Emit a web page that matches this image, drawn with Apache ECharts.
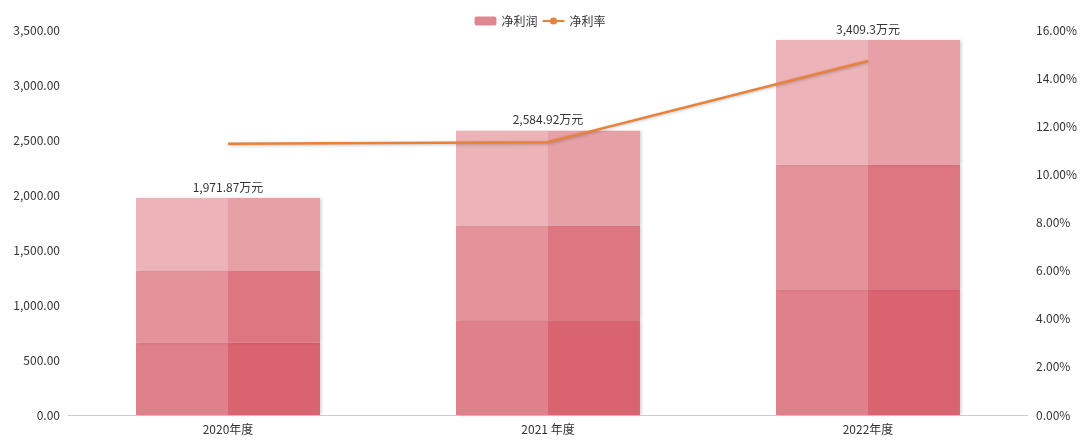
<!DOCTYPE html>
<html>
<head>
<meta charset="utf-8">
<script src="https://cdn.jsdelivr.net/npm/echarts@6/dist/echarts.min.js"></script>
<style>html,body{margin:0;padding:0;background:#fff}#main{width:1080px;height:442px}</style>
</head>
<body>
<div id="main"></div>
<script>
// 数据
var years = ['2020年度', '2021 年度', '2022年度'];
var profit = [1971.87, 2584.92, 3409.3];
var profitLabels = ['1,971.87万元', '2,584.92万元', '3,409.3万元'];
var seg1 = [657.29, 861.64, 1136.43];
var seg2 = [657.29, 861.64, 1136.43];
var seg3 = [657.29, 861.64, 1136.44];
var rate = [11.27, 11.34, 14.71];

(function () {
    var myChart = echarts.init(document.getElementById('main'));
    var font = 'Noto Sans CJK SC';
    var shadow = { shadowColor: 'rgba(0,0,0,0.18)', shadowBlur: 3, shadowOffsetX: 2 };

    function seg(name, stack, data, color, top) {
        var s = {
            name: name, type: 'bar', stack: stack, barWidth: 92, barGap: '0%',
            data: data, itemStyle: Object.assign({ color: color }, shadow)
        };
        if (top) {
            s.label = {
                show: true, position: 'top', offset: [-46, 0], color: '#333', fontSize: 12, fontFamily: font,
                formatter: function (p) { return profitLabels[p.dataIndex]; }
            };
        }
        return s;
    }

    var option = {
        animation: false,
        textStyle: { fontFamily: font },
        legend: {
            top: 10, left: 'center', itemGap: 4, itemWidth: 22, itemHeight: 9,
            textStyle: { color: '#333', fontSize: 12 },
            data: [{ name: '净利润', itemStyle: { color: '#e08890', shadowBlur: 0 } }, '净利率']
        },
        grid: { left: 68, right: 52, top: 30, bottom: 27 },
        xAxis: {
            type: 'category', data: years,
            axisTick: { show: false },
            axisLine: { lineStyle: { color: '#ccc' } },
            axisLabel: { color: '#333', fontSize: 12 }
        },
        yAxis: [{
            type: 'value', min: 0, max: 3500, interval: 500,
            axisLabel: { color: '#333', fontSize: 12, formatter: function (v) {
                return v.toLocaleString('en-US', { minimumFractionDigits: 2, maximumFractionDigits: 2 }); } },
            splitLine: { show: false }, axisLine: { show: false }, axisTick: { show: false }
        }, {
            type: 'value', min: 0, max: 16, interval: 2,
            axisLabel: { color: '#333', fontSize: 12, formatter: function (v) { return v.toFixed(2) + '%'; } },
            splitLine: { show: false }, axisLine: { show: false }, axisTick: { show: false }
        }],
        series: [
            seg('净利润', 'L', seg1, '#e0808a'),
            seg('净利润', 'L', seg2, '#e5939a'),
            seg('净利润', 'L', seg3, '#ecb3b8'),
            seg('净利润', 'R', seg1, '#d9646f'),
            seg('净利润', 'R', seg2, '#dd7680'),
            seg('净利润', 'R', seg3, '#e6a0a6', true),
            {
                name: '净利率', type: 'line', yAxisIndex: 1, data: rate,
                symbol: 'none', color: '#e8823a',
                lineStyle: { width: 2.5, color: '#e8823a', shadowColor: 'rgba(0,0,0,0.25)', shadowBlur: 3, shadowOffsetY: 1 },
                label: { show: true, position: 'right', offset: [-8, 0], color: '#444', fontSize: 12,
                    formatter: function (p) { return p.value.toFixed(2) + '%'; } }
            }
        ]
    };
    myChart.setOption(option);
})();
</script>
</body>
</html>
